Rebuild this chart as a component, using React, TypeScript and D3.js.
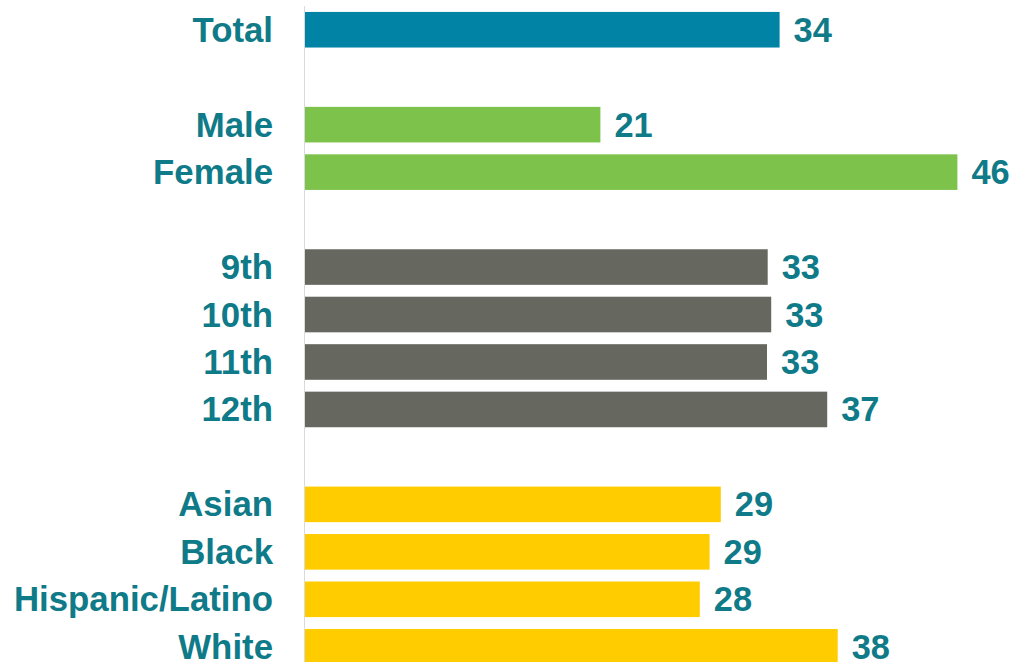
import React from "react";
import * as d3 from "d3";

const categories = ["Total", "Male", "Female", "9th", "10th", "11th", "12th", "Asian", "Black", "Hispanic/Latino", "White"];
const values = [33.9, 21.1, 46.6, 33.05, 33.3, 33.0, 37.3, 29.7, 28.9, 28.2, 38.05];
const valueLabels = ["34", "21", "46", "33", "33", "33", "37", "29", "29", "28", "38"];
const groups = ["total", "sex", "sex", "grade", "grade", "grade", "grade", "race", "race", "race", "race"];
const rowOrder = ["Total", "_gap1", "Male", "Female", "_gap2", "9th", "10th", "11th", "12th", "_gap3", "Asian", "Black", "Hispanic/Latino", "White"];
const groupColors: Record<string, string> = {
  total: "#0083A4",
  sex: "#7DC34B",
  grade: "#66675F",
  race: "#FFCC00",
};

const W = 1010;
const H = 662;
const TEXT = "#0F7A88";
const FONT = "'Liberation Sans', Arial, sans-serif";

export default function App() {
  const x = d3.scaleLinear().domain([0, 50]).range([305, 1005]);
  const y = d3
    .scaleBand<string>()
    .domain(rowOrder)
    .range([6, 670.5])
    .paddingInner(0.25)
    .paddingOuter(0.125);
  const bw = y.bandwidth();

  return (
    <svg
      width={W}
      height={H}
      style={{ position: "absolute", left: 0, top: 0, background: "#fff" }}
      fontFamily={FONT}
    >
      <line x1={304.5} x2={304.5} y1={6} y2={H} stroke="#DADADA" strokeWidth={1} />
      {categories.map((c, i) => {
        const y0 = y(c)!;
        const cy = y0 + bw / 2;
        return (
          <g key={c}>
            <rect x={x(0)} y={y0} width={x(values[i]) - x(0)} height={bw} fill={groupColors[groups[i]]} />
            <text
              x={273}
              y={cy + 12}
              textAnchor="end"
              fontSize={34.8}
              fontWeight="bold"
              fill={TEXT}
            >
              {c}
            </text>
            <text x={x(values[i]) + 14} y={cy + 12} fontSize={34.4} fontWeight="bold" fill={TEXT}>
              {valueLabels[i]}
            </text>
          </g>
        );
      })}
    </svg>
  );
}
